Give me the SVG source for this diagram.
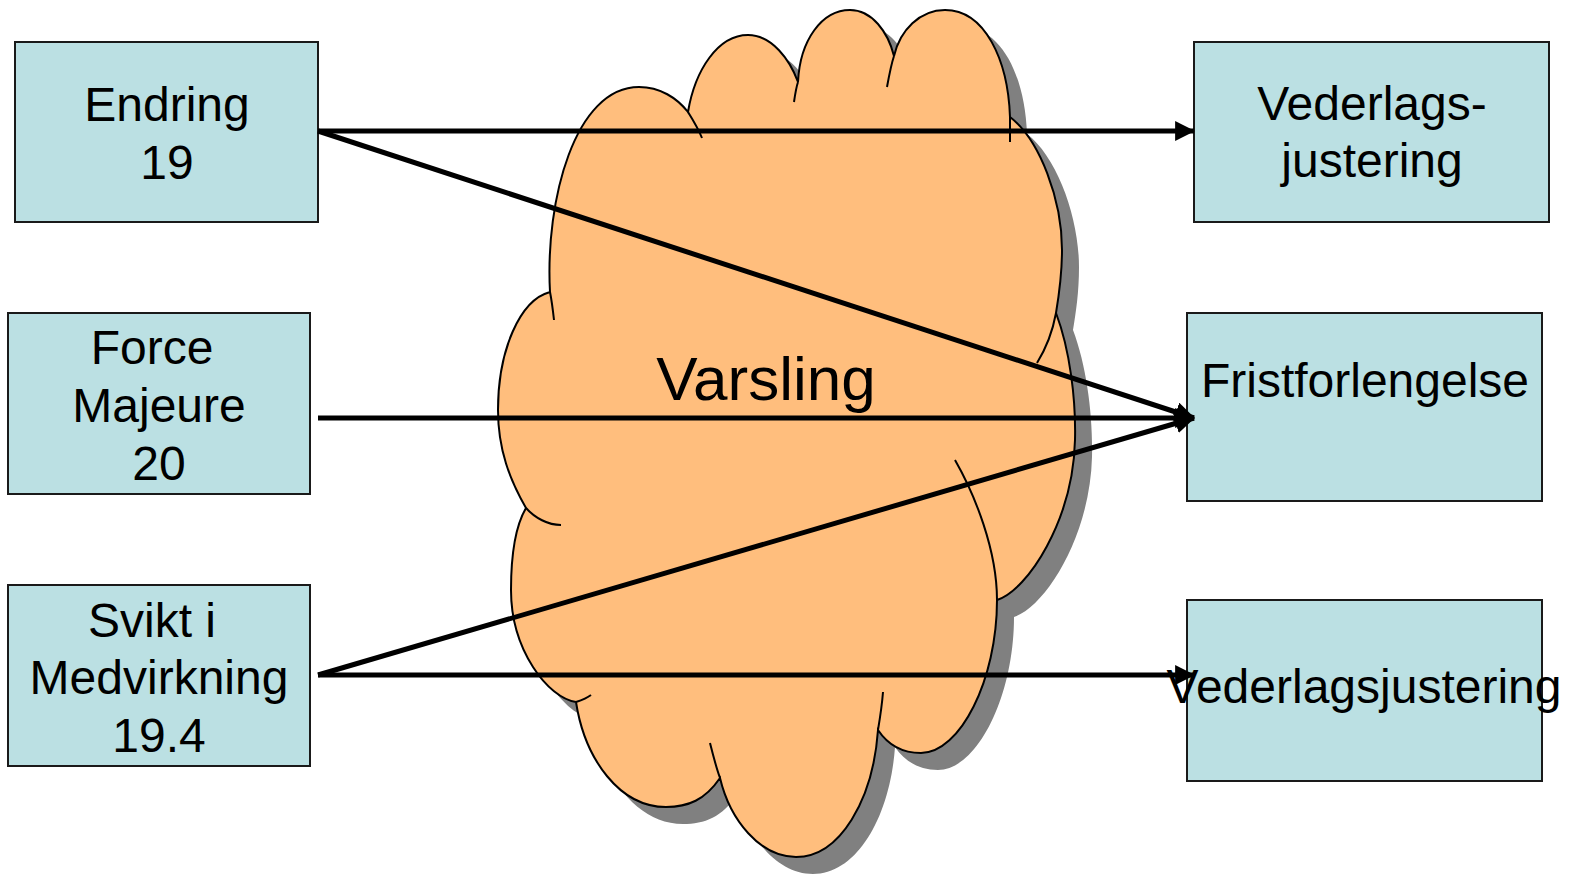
<svg xmlns="http://www.w3.org/2000/svg" width="1569" height="875" viewBox="0 0 1569 875">
  <style>
    .box { fill: #BBE0E3; stroke: #1a1a1a; stroke-width: 2; }
    .lbl { font-family: "Liberation Sans", Arial, sans-serif; font-size: 48px; fill: #000; text-anchor: middle; }
    .cloud { fill: #FFBE7D; stroke: #000; stroke-width: 2; }
    .shadow { fill: #808080; }
    .crease { fill: none; stroke: #000; stroke-width: 2; }
    .conn { stroke: #000; stroke-width: 5; fill: none; marker-end: url(#arrow); }
  </style>
  <defs>
    <marker id="arrow" markerUnits="userSpaceOnUse" markerWidth="20" markerHeight="20" viewBox="0 0 18 18" refX="17" refY="9" orient="auto">
      <path d="M0,0 L18,9 L0,18 Z" fill="#000"/>
    </marker>
    <path id="cloudPath" d="M550,292 C545,200 575,87 639,87 C660,87 677,98 688,112 C695,70 718,35 748,35 C772,35 790,60 798,82 C800,40 822,10 850,10 C872,10 888,32 894,56 C900,30 920,10 945,10 C985,10 1008,60 1010,117 C1040,140 1062,200 1062,250 C1062,275 1059,295 1056,313 C1070,350 1076,400 1075,440 C1073,520 1028,590 997,600 C997,680 960,753 921,753 C903,753 888,745 878,730 C873,800 840,857 796,857 C760,857 730,820 720,778 C705,800 688,807 666,807 C620,807 585,760 576,702 C548,698 511,650 511,590 C511,555 516,525 526,508 C510,480 498,450 498,410 C498,350 520,300 550,292 Z"/>
  </defs>

  <g id="cloud">
    <use href="#cloudPath" class="shadow" transform="translate(17,17)"/>
    <use href="#cloudPath" class="cloud"/>
    <path class="crease" d="M550,292 C552,302 553,311 554,320"/>
    <path class="crease" d="M688,112 C693,120 698,128 702,138"/>
    <path class="crease" d="M798,82 C796,88 795,95 794,102"/>
    <path class="crease" d="M894,56 C891,65 889,76 887,87"/>
    <path class="crease" d="M1010,117 L1010,142"/>
    <path class="crease" d="M1056,313 C1052,335 1045,350 1037,363"/>
    <path class="crease" d="M955,460 C975,495 997,550 997,600"/>
    <path class="crease" d="M883,692 C882,705 880,718 878,730"/>
    <path class="crease" d="M710,743 C713,755 716,767 720,778"/>
    <path class="crease" d="M576,702 C582,700 587,698 591,695"/>
    <path class="crease" d="M526,508 C535,518 548,525 561,525"/>
    <text x="766" y="400" font-family="Liberation Sans, Arial, sans-serif" font-size="62" text-anchor="middle" fill="#000">Varsling</text>
  </g>

  <g id="endring">
    <rect class="box" x="15" y="42" width="303" height="180"/>
    <text class="lbl" x="167" y="121">Endring</text>
    <text class="lbl" x="167" y="179">19</text>
  </g>

  <g id="force-majeure">
    <rect class="box" x="8" y="313" width="302" height="181"/>
    <text class="lbl" x="152" y="364">Force</text>
    <text class="lbl" x="159" y="422">Majeure</text>
    <text class="lbl" x="159" y="480">20</text>
  </g>

  <g id="svikt">
    <rect class="box" x="8" y="585" width="302" height="181"/>
    <text class="lbl" x="152" y="637">Svikt i</text>
    <text class="lbl" x="159" y="694">Medvirkning</text>
    <text class="lbl" x="159" y="752">19.4</text>
  </g>

  <g id="vederlags-top">
    <rect class="box" x="1194" y="42" width="355" height="180"/>
    <text class="lbl" x="1372" y="120">Vederlags-</text>
    <text class="lbl" x="1372" y="177">justering</text>
  </g>

  <g id="fristforlengelse">
    <rect class="box" x="1187" y="313" width="355" height="188"/>
    <text class="lbl" x="1365" y="397">Fristforlengelse</text>
  </g>

  <g id="vederlags-bottom">
    <rect class="box" x="1187" y="600" width="355" height="181"/>
  </g>

  <g id="connectors">
    <line class="conn" x1="318" y1="131" x2="1194" y2="131"/>
    <line class="conn" x1="318" y1="131" x2="1194" y2="418"/>
    <line class="conn" x1="318" y1="418" x2="1194" y2="418"/>
    <line class="conn" x1="318" y1="675" x2="1194" y2="418"/>
    <line class="conn" x1="318" y1="675" x2="1194" y2="675"/>
  </g>

  <text class="lbl" x="1364" y="703">Vederlagsjustering</text>
</svg>
